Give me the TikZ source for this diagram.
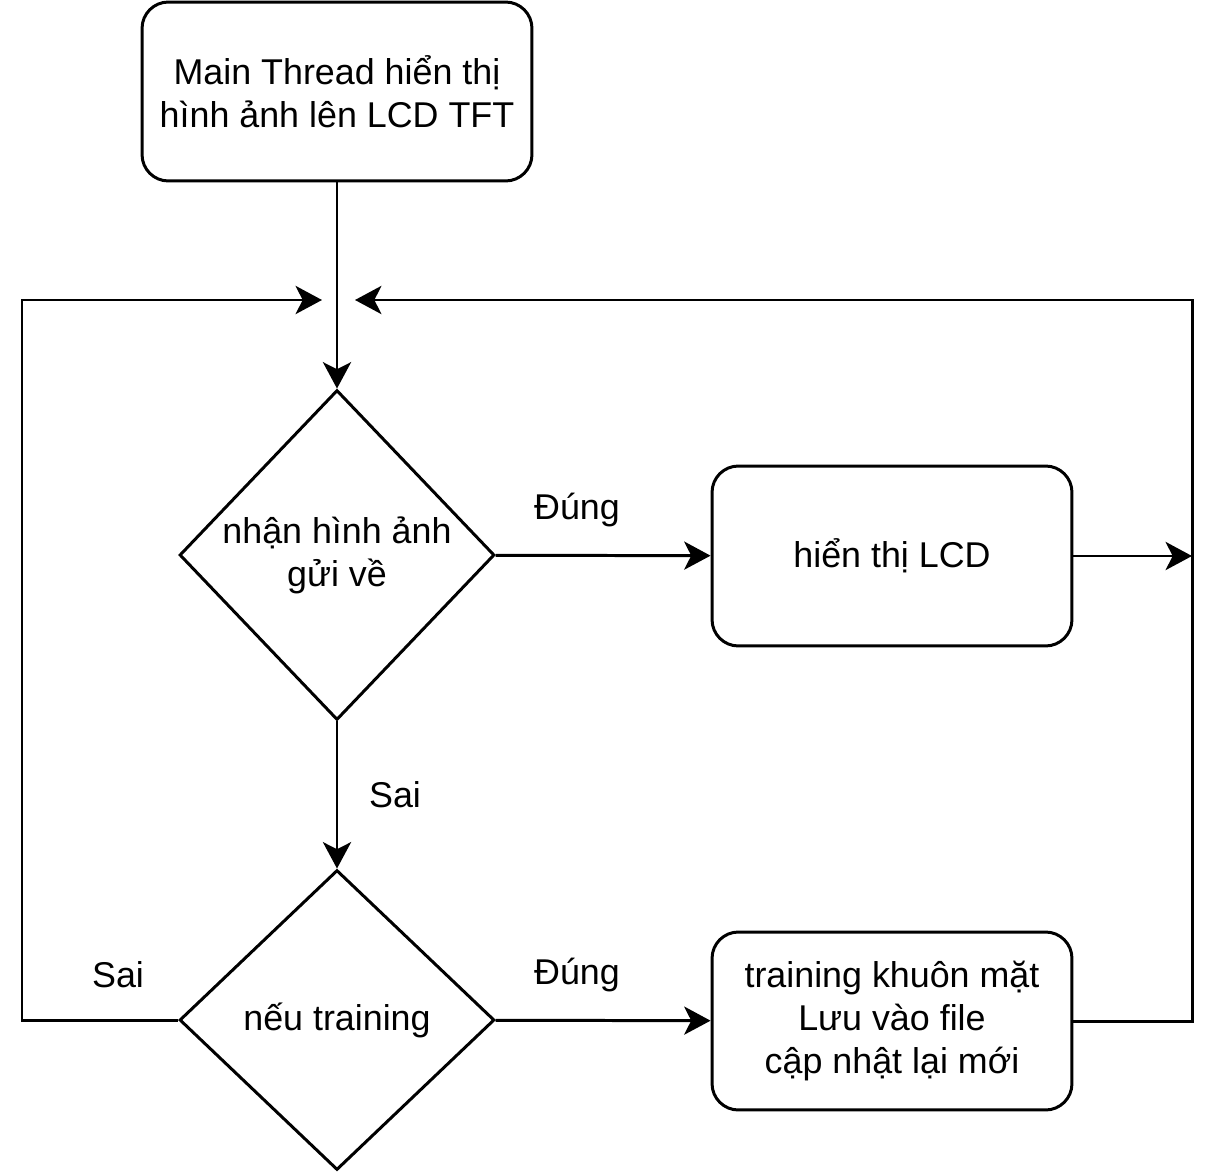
\documentclass[tikz,border=0pt]{standalone}
\usepackage{fontspec}
\setmainfont{Liberation Sans}
\usetikzlibrary{shapes.geometric,arrows.meta}
\begin{document}
\begin{tikzpicture}[x=0.02cm,y=-0.02cm,line width=1.7pt]

    \tikzset{txt/.style = {font=\fontsize{20.4}{24.5}\selectfont}}
    \tikzset{block/.style = {shape=rectangle,rounded corners=15pt,draw,align=center,txt}}
    \tikzset{decision/.style = {shape=diamond,draw,align=center,inner sep=0pt,txt}}
    \tikzset{edge/.style = {-{Stealth[length=15pt,width=16pt,inset=4pt]}}}
    \useasboundingbox (0,0) rectangle (1221,1173);

    \node[block,minimum width=7.8cm,minimum height=3.58cm] (main) at (337,91.5) {Main Thread hiển thị\\hình ảnh lên LCD TFT};
    \node[decision,minimum width=6.3cm,minimum height=6.6cm] (recv) at (337,555) {nhận hình ảnh\\gửi về};
    \node[decision,minimum width=6.3cm,minimum height=6cm] (train) at (337,1020) {nếu training};
    \node[block,minimum width=7.2cm,minimum height=3.6cm] (lcd) at (892,556) {hiển thị LCD};
    \node[block,minimum width=7.2cm,minimum height=3.56cm] (save) at (892,1021) {training khuôn mặt\\Lưu vào file\\cập nhật lại mới};

    \coordinate (l1) at (22,300);
    \coordinate (lt) at (322,300);
    \coordinate (r0) at (1192,556);
    \coordinate (r1) at (1192,300);
    \coordinate (rt) at (355,300);

    \node[txt] (y1) at (577,510) {Đúng};
    \node[txt] (y2) at (577,975) {Đúng};
    \node[txt] (n1) at (395,795) {Sai};
    \node[txt] (n2) at (118,975) {Sai};

    \draw[edge] (main) to (recv);
    \draw[edge] (recv) to (lcd);
    \draw[edge] (recv) to (train);
    \draw[edge] (train) to (save);
    \draw[edge] (lcd.east) to (r0);
    \draw[edge] (train.west) -| (l1) -- (lt);
    \draw[edge] (save.east) -| (r1) -- (rt);

\end{tikzpicture}
\end{document}
